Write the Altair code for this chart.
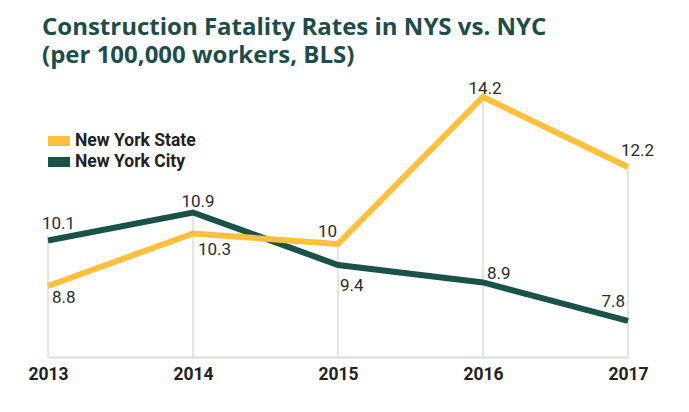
import altair as alt
import pandas as pd

years = ["2013", "2014", "2015", "2016", "2017"]
nys = [8.8, 10.3, 10.0, 14.2, 12.2]
nyc = [10.1, 10.9, 9.4, 8.9, 7.8]
series_names = ["New York State", "New York City"]
label_text_nys = ["8.8", "10.3", "10", "14.2", "12.2"]
label_text_nyc = ["10.1", "10.9", "9.4", "8.9", "7.8"]

# label placement styles (align, dx, dy) per point
place_nys = [("left", 4, 17), ("left", 5, 22), ("right", -1, -7), ("center", 2, -3), ("left", -7, -11)]
place_nyc = [("left", -6, -11), ("center", 5, -5), ("left", 2, 26), ("left", 4, -3), ("right", -3, -14)]

YELLOW = "#ffc03d"
GREEN = "#1a5248"
Y_MIN = 6.77
Y_MAX = 14.2

rows = []
for i, yr in enumerate(years):
    rows.append({"year": yr, "series": series_names[0], "value": nys[i], "label": label_text_nys[i]})
    rows.append({"year": yr, "series": series_names[1], "value": nyc[i], "label": label_text_nyc[i]})
df = pd.DataFrame(rows)

drop = pd.DataFrame({"year": years, "top": [max(a, b) for a, b in zip(nys, nyc)], "base": [Y_MIN] * len(years)})

xenc = alt.X("year:O", scale=alt.Scale(type="point", padding=0),
             axis=alt.Axis(title=None, labelAngle=0, ticks=False, labelPadding=8,
                           labelFont="Roboto", labelFontSize=17.5, labelFontWeight="bold",
                           labelColor="#222222", domainColor="#dddddd", domainWidth=2,
                           grid=False))
yscale = alt.Scale(domain=[Y_MIN, Y_MAX], nice=False, zero=False)

rules = alt.Chart(drop).mark_rule(color="#dddddd", strokeWidth=1.5).encode(
    x=xenc,
    y=alt.Y("top:Q", scale=yscale, axis=None),
    y2="base:Q",
)

# legend swatch: a block of thin horizontal strokes forming a filled 22x10 rectangle
swatch = "".join("M-1.22,%.2fH1.22" % v for v in [-0.44, -0.33, -0.22, -0.11, 0, 0.11, 0.22, 0.33, 0.44])

color_enc = alt.Color("series:N",
                      scale=alt.Scale(domain=series_names, range=[YELLOW, GREEN]),
                      legend=alt.Legend(title=None, orient="none", legendX=1, legendY=34,
                                        symbolType=swatch,
                                        symbolSize=324, symbolStrokeWidth=2,
                                        labelFont="Roboto", labelFontSize=17.5,
                                        labelFontWeight="bold", labelColor="#222222",
                                        labelOffset=6, rowPadding=2, padding=0))


def line_for(sname):
    return alt.Chart(df).transform_filter(alt.datum.series == sname).mark_line(
        strokeWidth=6, strokeJoin="miter").encode(
        x=xenc,
        y=alt.Y("value:Q", scale=yscale, axis=None),
        color=color_enc,
        order=alt.Order("year:O"),
    )


layers = [rules, line_for(series_names[1]), line_for(series_names[0])]
for sname, places in [(series_names[0], place_nys), (series_names[1], place_nyc)]:
    for i, yr in enumerate(years):
        align, dx, dy = places[i]
        t = alt.Chart(df).transform_filter(
            (alt.datum.series == sname) & (alt.datum.year == yr)
        ).mark_text(font="Roboto", fontSize=17, color="#2b2b2b", align=align,
                    baseline="alphabetic", dx=dx, dy=dy).encode(
            x=xenc,
            y=alt.Y("value:Q", scale=yscale, axis=None),
            text="label:N",
        )
        layers.append(t)

chart = alt.layer(*layers).properties(
    width=580,
    height=260,
    autosize="none",
    padding={"left": 40, "top": 89, "right": 53, "bottom": 47},
    title=alt.TitleParams(
        text=["Construction Fatality Rates in NYS vs. NYC", "(per 100,000 workers, BLS)"],
        anchor="start", frame="group", dx=-6, offset=12,
        font="Open Sans", fontSize=24, fontWeight="bold", color="#1d4d4a",
        lineHeight=28,
    ),
).configure(background="white").configure_view(stroke=None)

chart.save("out.html", embed_options={"renderer": "svg", "actions": False})
